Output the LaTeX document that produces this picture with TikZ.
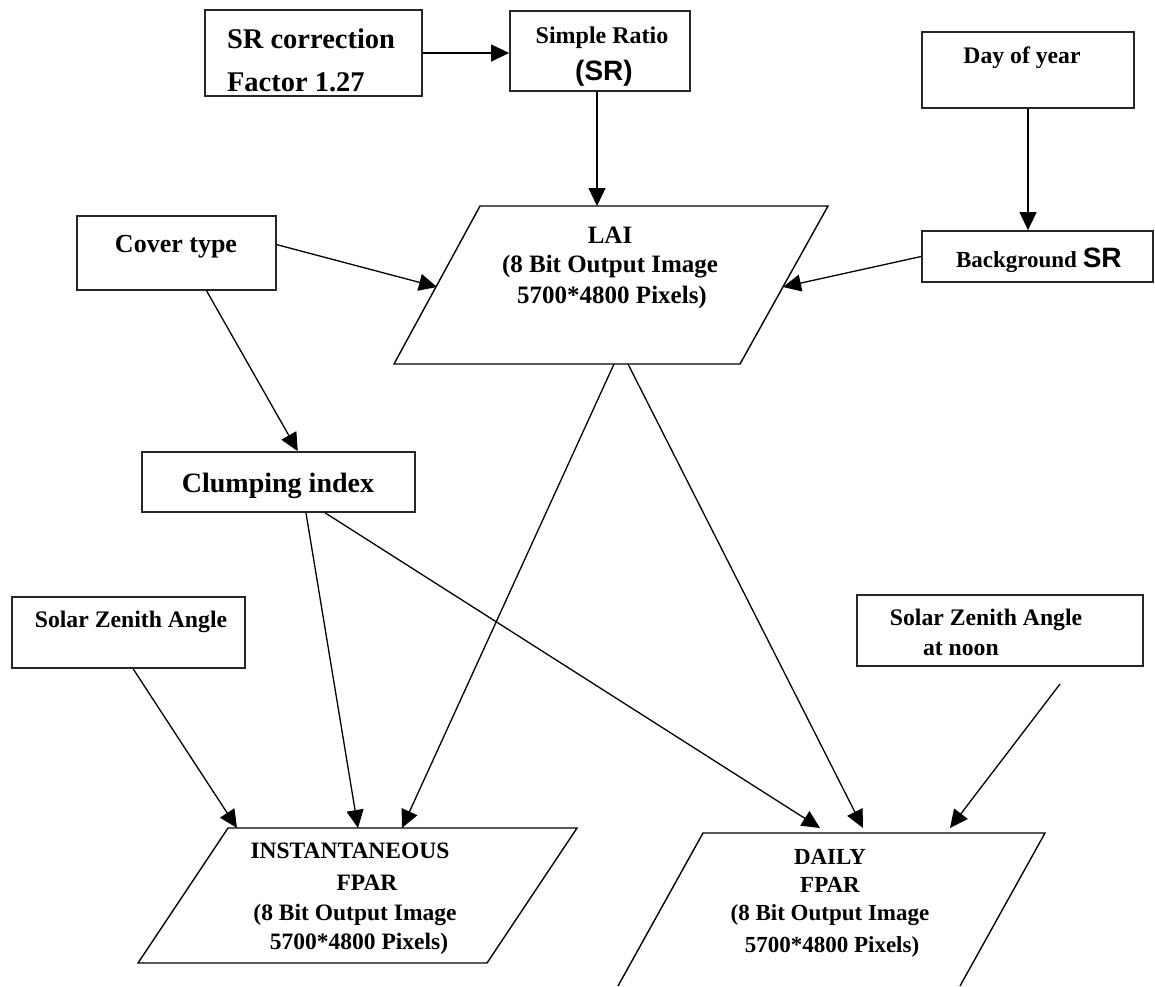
\documentclass[tikz,border=0pt]{standalone}
\usepackage{fontspec}
\setmainfont{Liberation Serif}
\newfontfamily\arialf{Liberation Sans}
\usetikzlibrary{arrows.meta,calc}
\newcommand\myfs[1]{\fontsize{#1}{#1}\selectfont\bfseries}
\begin{document}
\begin{tikzpicture}[x=1pt,y=-1pt,
  box/.style={draw=black!85, line width=1.8pt, rectangle, inner sep=0pt},
  conn/.style={-{Triangle[length=18pt,width=17pt]}, line width=1.3pt},
  para/.style={draw, line width=1.4pt, line join=miter},
  txt/.style={inner sep=0pt, outer sep=0pt}]
\useasboundingbox (0,0) rectangle (1155,986);

% boxes
\node[box, minimum width=217, minimum height=86] (srcf) at (313.5,53) {};
\node[box, minimum width=180, minimum height=80] (sr) at (600,51) {};
\node[box, minimum width=212, minimum height=76] (doy) at (1028,70) {};
\node[box, minimum width=231, minimum height=51] (bg) at (1037.5,256.5) {};
\node[box, minimum width=199, minimum height=74] (cover) at (176.5,253) {};
\node[box, minimum width=273, minimum height=60] (clump) at (278.5,482) {};
\node[box, minimum width=233, minimum height=71] (sza) at (128.5,632.5) {};
\node[box, minimum width=286, minimum height=71] (szn) at (1000,630.5) {};

% parallelograms
\coordinate (laiTL) at (480,206); \coordinate (laiTR) at (828,206);
\coordinate (laiBR) at (740,364); \coordinate (laiBL) at (394,364);
\draw[para] (laiTL) -- (laiTR) -- (laiBR) -- (laiBL) -- cycle;
\coordinate (insTL) at (228,828); \coordinate (insTR) at (577,828);
\coordinate (insBR) at (487,963); \coordinate (insBL) at (138,963);
\draw[para] (insTL) -- (insTR) -- (insBR) -- (insBL) -- cycle;
\coordinate (dayTL) at (703,833); \coordinate (dayTR) at (1045,833);
\coordinate (dayBR) at (960,986); \coordinate (dayBL) at (618,986);
\draw[para] (dayBL) -- (dayTL) -- (dayTR) -- (dayBR);

% texts
\node[txt, anchor=base west, font=\myfs{28.5}] (srcf1) at (227,48) {SR correction};
\node[txt, anchor=base west, font=\myfs{28.5}] (srcf2) at (227,91) {Factor 1.27};
\node[txt, anchor=base, font=\myfs{24}] (sr1) at (602,43) {Simple Ratio};
\node[txt, anchor=base, font=\arialf\myfs{28}] (sr2) at (604,80) {(SR)};
\node[txt, anchor=base, font=\myfs{23.7}] (doy1) at (1022,63) {Day of year};
\node[txt, anchor=base west, font=\myfs{23}] (bg1) at (956,267) {Background {\arialf\myfs{28}SR}};
\node[txt, anchor=base, font=\myfs{26}] (cover1) at (176,252) {Cover type};
\node[txt, anchor=base, font=\myfs{25}] (lai1) at (610,243) {LAI};
\node[txt, anchor=base, font=\myfs{25}] (lai2) at (610,272) {(8 Bit Output Image};
\node[txt, anchor=base, font=\myfs{25}] (lai3) at (612,303) {5700*4800 Pixels)};
\node[txt, anchor=base, font=\myfs{28}] (clump1) at (278,492) {Clumping index};
\node[txt, anchor=base, font=\myfs{23.7}] (sza1) at (131,627) {Solar Zenith Angle};
\node[txt, anchor=base, font=\myfs{23.7}] (szn1) at (986,625) {Solar Zenith Angle};
\node[txt, anchor=base west, font=\myfs{23.7}] (szn2) at (923,655) {at noon};
\node[txt, anchor=base, font=\myfs{23.5}] (ins1) at (350,858) {INSTANTANEOUS};
\node[txt, anchor=base, font=\myfs{23.5}] (ins2) at (367,890) {FPAR};
\node[txt, anchor=base, font=\myfs{23.5}] (ins3) at (355,920) {(8 Bit Output Image};
\node[txt, anchor=base, font=\myfs{23.5}] (ins4) at (359,949) {5700*4800 Pixels)};
\node[txt, anchor=base, font=\myfs{23}] (day1) at (830,864) {DAILY};
\node[txt, anchor=base, font=\myfs{23}] (day2) at (830,892) {FPAR};
\node[txt, anchor=base, font=\myfs{23}] (day3) at (830,920) {(8 Bit Output Image};
\node[txt, anchor=base, font=\myfs{23}] (day4) at (832,952) {5700*4800 Pixels)};

% connector end points
\coordinate (srBot) at (597,91);
\coordinate (laiTop) at (597,206);
\coordinate (laiLeft) at (437,287);
\coordinate (laiRight) at (783,287);
\coordinate (laiB1) at (614,364);
\coordinate (laiB2) at (628,364);
\coordinate (insA) at (237,828);
\coordinate (insB) at (358,828);
\coordinate (insC) at (402,828);
\coordinate (dayA) at (820,828);
\coordinate (dayB) at (863,828);
\coordinate (dayC) at (950,828);
\coordinate (sznStart) at (1060,684);

% connectors
\draw[conn] (srcf.east) -- (srcf.east -| sr.west);
\draw[conn] (srBot) -- (laiTop);
\draw[conn] (doy.south) -- (doy.south |- bg.north);
\draw[conn] (bg.west) -- (laiRight);
\draw[conn] ($(cover.north east)!0.39!(cover.south east)$) -- (laiLeft);
\draw[conn] ($(cover.south west)!0.65!(cover.south east)$) -- ($(clump.north west)!0.57!(clump.north east)$);
\draw[conn] ($(clump.south west)!0.6!(clump.south east)$) -- (insB);
\draw[conn] ($(clump.south west)!0.67!(clump.south east)$) -- (dayA);
\draw[conn] (laiB1) -- (insC);
\draw[conn] (laiB2) -- (dayB);
\draw[conn] ($(sza.south west)!0.52!(sza.south east)$) -- (insA);
\draw[conn] (sznStart) -- (dayC);
\end{tikzpicture}
\end{document}
